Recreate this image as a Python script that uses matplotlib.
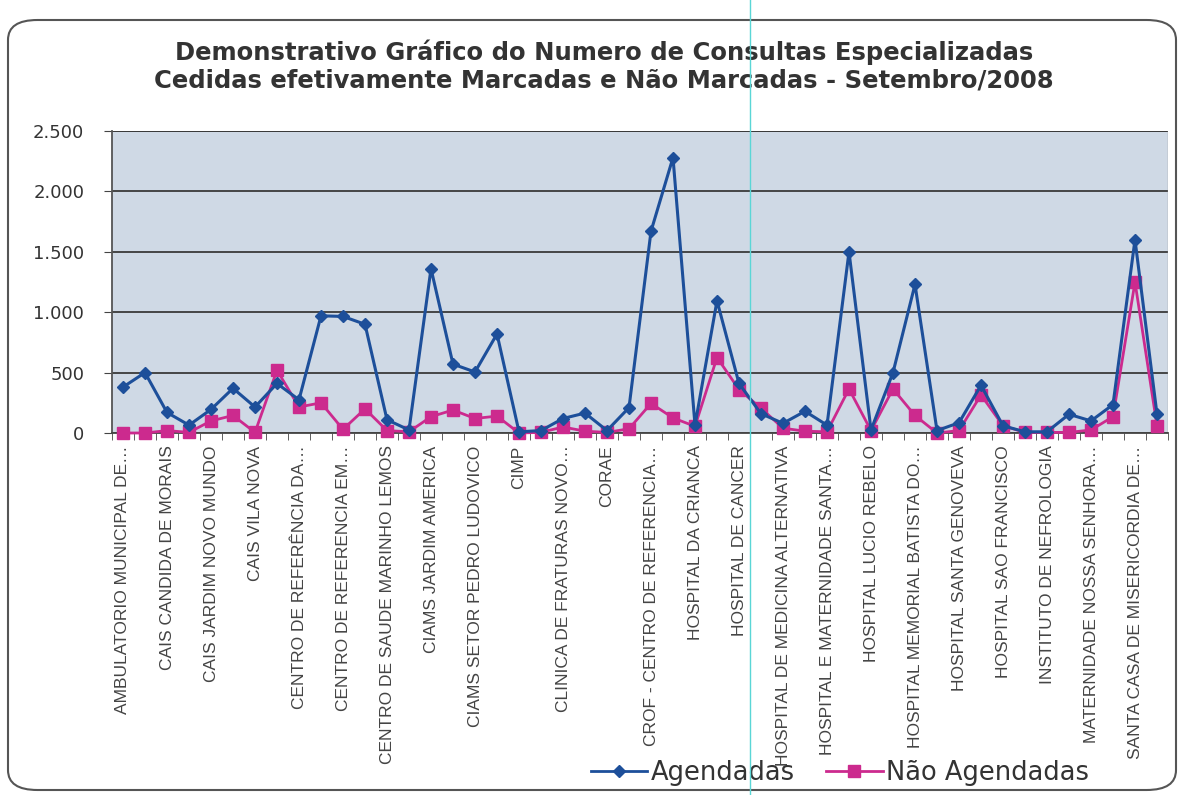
import matplotlib
matplotlib.use('Agg')
import matplotlib.pyplot as plt
from matplotlib.patches import FancyBboxPatch
from matplotlib.transforms import Bbox, TransformedBbox
import matplotlib.lines as mlines

plt.rcParams['font.family'] = ['Liberation Sans', 'DejaVu Sans']

# every other category name is hidden in the original (Excel skipped them)
shown_labels = [
    "AMBULATORIO MUNICIPAL DE…", "CAIS CANDIDA DE MORAIS", "CAIS JARDIM NOVO MUNDO",
    "CAIS VILA NOVA", "CENTRO DE REFERÊNCIA DA…", "CENTRO DE REFERENCIA EM…",
    "CENTRO DE SAUDE MARINHO LEMOS", "CIAMS JARDIM AMERICA", "CIAMS SETOR PEDRO LUDOVICO",
    "CIMP", "CLINICA DE FRATURAS NOVO…", "CORAE", "CROF - CENTRO DE REFERENCIA…",
    "HOSPITAL DA CRIANCA", "HOSPITAL DE CANCER", "HOSPITAL DE MEDICINA ALTERNATIVA",
    "HOSPITAL E MATERNIDADE SANTA…", "HOSPITAL LUCIO REBELO", "HOSPITAL MEMORIAL BATISTA DO…",
    "HOSPITAL SANTA GENOVEVA", "HOSPITAL SAO FRANCISCO", "INSTITUTO DE NEFROLOGIA",
    "MATERNIDADE NOSSA SENHORA…", "SANTA CASA DE MISERICORDIA DE…",
]

agendadas = [380, 500, 170, 65, 195, 370, 215, 410, 275, 970, 965, 900,
             110, 25, 1360, 570, 505, 820, 10, 20, 120, 165, 20, 210,
             1670, 2280, 65, 1095, 410, 160, 80, 180, 65, 1500, 25, 500,
             1230, 20, 85, 395, 60, 10, 10, 155, 100, 235, 1600, 155]

nao_agendadas = [0, 0, 20, 5, 100, 145, 5, 520, 215, 250, 30, 200,
                 20, 10, 135, 190, 120, 140, 0, 5, 50, 15, 5, 35,
                 245, 125, 55, 625, 360, 205, 40, 15, 10, 365, 20, 365,
                 145, 0, 20, 315, 60, 5, 5, 5, 25, 135, 1250, 60]

y_ticks = [0, 500, 1000, 1500, 2000, 2500]
y_tick_labels = ["0", "500", "1.000", "1.500", "2.000", "2.500"]

blue = '#1d4f9a'
pink = '#cc2a8e'
text_col = '#333333'

fig = plt.figure(figsize=(11.79, 7.95), dpi=100)

# rounded chart frame, kept behind the axes
frame = FancyBboxPatch((8 / 1179, 5 / 795), 1168 / 1179, 770 / 795,
                       boxstyle="round,pad=0,rounding_size=0.025",
                       transform=fig.transFigure, facecolor='white',
                       edgecolor='#555555', linewidth=1.5, zorder=-10)
fig.add_artist(frame)

ax = fig.add_axes((112 / 1179, 1 - 433 / 795, 1056 / 1179, 302 / 795))
ax.set_facecolor('#cfd9e5')

x = list(range(len(agendadas)))
ax.plot(x, agendadas, color=blue, linewidth=2.2, marker='D', markersize=6.5,
        markerfacecolor=blue, markeredgecolor=blue, clip_on=False, zorder=4,
        label='Agendadas')
ax.plot(x, nao_agendadas, color=pink, linewidth=2.0, marker='s', markersize=8,
        markerfacecolor=pink, markeredgecolor=pink, clip_on=False, zorder=3,
        label='Não Agendadas')

ax.set_xlim(-0.5, len(agendadas) - 0.5)
ax.set_ylim(0, 2500)

ax.set_yticks(y_ticks)
ax.set_yticklabels(y_tick_labels, fontsize=13, color=text_col, family='DejaVu Sans')
ax.yaxis.grid(True, color='#3a3a3a', linewidth=1.3)
ax.set_axisbelow(True)

ax.set_xticks(range(0, len(agendadas), 2))
ax.set_xticklabels(shown_labels, rotation=90, fontsize=12.5, color='#444444')
ax.set_xticks([i - 0.5 for i in range(len(agendadas) + 1)], minor=True)
ax.tick_params(axis='x', which='major', length=0, pad=9)
ax.tick_params(axis='x', which='minor', length=5, color='#444444', direction='out')
ax.tick_params(axis='y', length=6, color='#444444', pad=14)

# long labels are cut off just above the legend, as in the original
label_clip = TransformedBbox(Bbox([[0, 1 - 767 / 795], [1, 1]]), fig.transFigure)
for lab in ax.get_xticklabels():
    lab.set_clip_box(label_clip)
    lab.set_clip_on(True)

for side in ['top', 'right']:
    ax.spines[side].set_visible(False)
ax.spines['left'].set_color('#555555')
ax.spines['left'].set_linewidth(1.3)
ax.spines['bottom'].set_color('#444444')
ax.spines['bottom'].set_linewidth(1.3)
ax.axhline(2500, color='#3a3a3a', linewidth=1.3)
ax.axvline(len(agendadas) - 0.5, color='#999999', linewidth=1.0)

title_font = dict(ha='center', va='center', fontsize=17.5, fontweight='bold',
                  color=text_col, family='DejaVu Sans')
fig.text(0.512, 1 - 52 / 795,
         "Demonstrativo Gráfico do Numero de Consultas Especializadas", **title_font)
fig.text(0.512, 1 - 80 / 795,
         "Cedidas efetivamente Marcadas e Não Marcadas - Setembro/2008", **title_font)

# legend at the bottom
h1 = mlines.Line2D([], [], color=blue, linewidth=2, marker='D', markersize=6, label='Agendadas')
h2 = mlines.Line2D([], [], color=pink, linewidth=2, marker='s', markersize=8, label='Não Agendadas')
fig.legend(handles=[h1, h2], loc='center', bbox_to_anchor=(840 / 1179, 1 - 773 / 795),
           ncol=2, frameon=False, handlelength=2.2, columnspacing=1.2,
           handletextpad=0.15, labelcolor=text_col,
           prop={'family': 'DejaVu Sans', 'size': 18.5})

# scanner artefact: thin cyan vertical line
fig.add_artist(mlines.Line2D([750 / 1179, 750 / 1179], [0, 1], color='#5ad6d6',
                             linewidth=1.0, transform=fig.transFigure, zorder=10))

fig.savefig('out.png', dpi=100)
